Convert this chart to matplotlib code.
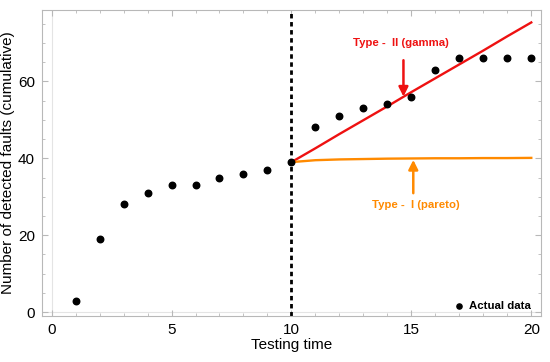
import numpy as np
import matplotlib.pyplot as plt
from matplotlib.ticker import MultipleLocator

plt.rcParams['font.family'] = ['Liberation Sans', 'DejaVu Sans']

# data
time = list(range(1, 21))
faults = [3, 19, 28, 31, 33, 33, 35, 36, 37, 39, 48, 51, 53, 54, 56, 63, 66, 66, 66, 66]
fit_time = [10, 11, 12, 13, 14, 15, 16, 17, 18, 19, 20]
gamma_fit = [39, 42.6, 46.3, 49.9, 53.5, 57.2, 60.8, 64.4, 68.0, 71.7, 75.3]
pareto_fit = [39, 39.5, 39.7, 39.8, 39.9, 39.95, 40.0, 40.0, 40.05, 40.05, 40.1]

red = '#ee1111'
orange = '#ff8a00'
frame_col = '#b8b8b8'

fig = plt.figure(figsize=(5.5, 3.62), dpi=100)
ax = fig.add_axes([0.0764, 0.127, 0.907, 0.845])

ax.axvline(0, color='#e4e4e4', lw=0.8, zorder=0)
ax.axhline(0, color='#e4e4e4', lw=0.8, zorder=0)

ax.plot(fit_time, gamma_fit, color=red, lw=1.7, zorder=3)
ax.plot(fit_time, pareto_fit, color=orange, lw=1.7, zorder=3)
ax.axvline(10, color='black', lw=2, linestyle=(0, (1.6, 1.3)), zorder=2)
ax.scatter(time, faults, s=22, color='black', zorder=4)

ax.annotate('', xy=(14.67, 55.3), xytext=(14.67, 66.2),
            arrowprops=dict(arrowstyle='-|>', color=red, lw=1.8, mutation_scale=14))
ax.text(14.58, 70.0, 'Type -  II (gamma)', color=red, fontsize=8.2, fontweight='bold',
        ha='center', va='center')
ax.annotate('', xy=(15.08, 40.3), xytext=(15.08, 30.2),
            arrowprops=dict(arrowstyle='-|>', color=orange, lw=1.8, mutation_scale=14))
ax.text(15.17, 27.9, 'Type -  I (pareto)', color=orange, fontsize=8.2, fontweight='bold',
        ha='center', va='center')

ax.scatter([17.0], [1.6], s=14, color='black')
ax.text(17.4, 1.6, 'Actual data', fontsize=8.2, fontweight='bold', va='center', ha='left')

ax.set_xlim(-0.4, 20.4)
ax.set_ylim(-1.0, 78.5)
ax.xaxis.set_major_locator(MultipleLocator(5))
ax.xaxis.set_minor_locator(MultipleLocator(1))
ax.yaxis.set_major_locator(MultipleLocator(20))
ax.yaxis.set_minor_locator(MultipleLocator(5))
ax.tick_params(which='both', direction='in', top=True, right=True,
               color=frame_col, labelsize=11, pad=5)
ax.tick_params(which='major', length=4, width=0.8)
ax.tick_params(which='minor', length=2.5, width=0.6)
ax.tick_params(labeltop=False, labelright=False)
for s in ax.spines.values():
    s.set_color(frame_col)
    s.set_linewidth(0.8)

ax.set_xlabel('Testing time', fontsize=11, labelpad=1)
ax.set_ylabel('Number of detected faults (cumulative)', fontsize=11, labelpad=2)

fig.savefig('out.png', dpi=100)
